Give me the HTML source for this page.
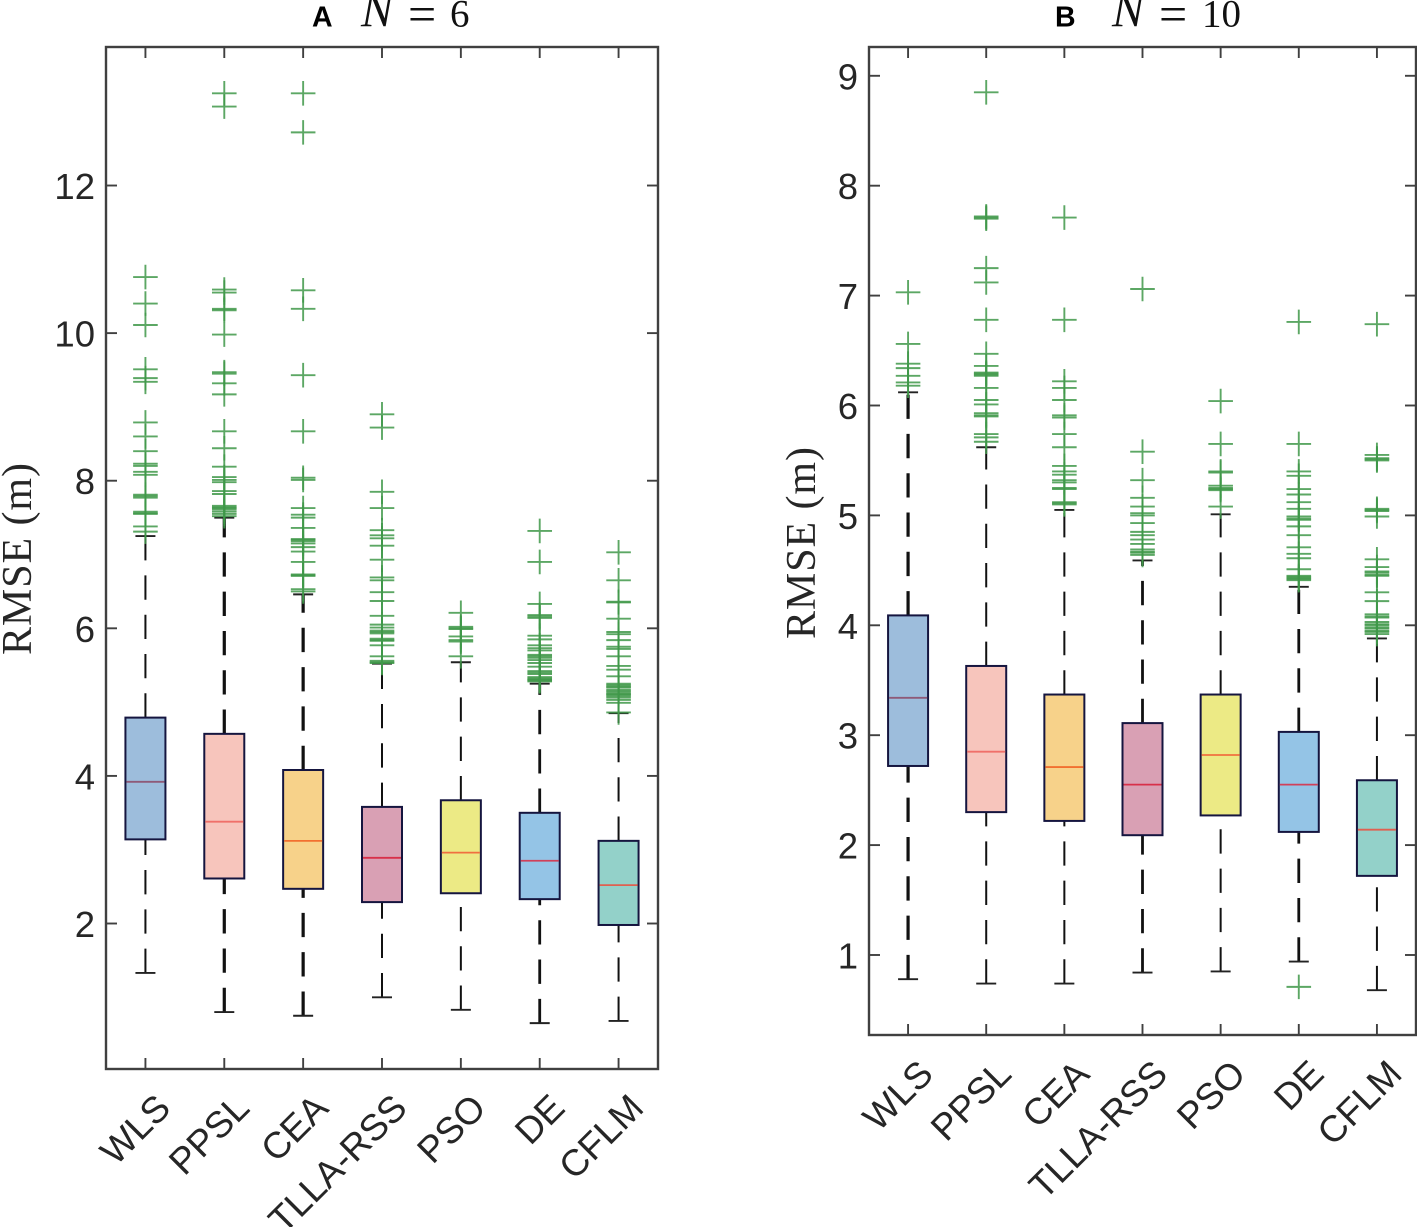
<!DOCTYPE html>
<html lang="en">
<head>
<meta charset="utf-8">
<title>RMSE box plots</title>
<style>
html,body{margin:0;padding:0;background:#fff;}
svg{display:block;}
text{fill:#262626;}
.tick-label{font-family:"Liberation Sans",sans-serif;font-size:36.5px;}
.cat-label{font-family:"Liberation Sans",sans-serif;font-size:37px;}
.y-title{font-family:"Liberation Serif",serif;font-size:42px;}
.panel-letter{font-family:"Liberation Sans",sans-serif;font-size:28.5px;font-weight:bold;fill:#000;}
.math{font-family:"Liberation Serif",serif;font-size:39px;fill:#111;}
.math-n{font-family:"Liberation Serif",serif;font-size:48px;font-style:italic;fill:#111;}
.math-eq{font-family:"Liberation Serif",serif;font-size:50px;fill:#111;}
</style>
</head>
<body>
<svg id="chart" xmlns="http://www.w3.org/2000/svg" width="1417" height="1227" viewBox="0 0 1417 1227">
  <text class="panel-letter" x="312" y="26.5">A</text>
  <text class="math-n" x="361" y="26.5">N</text>
  <text class="math-eq" x="408" y="31">=</text>
  <text class="math" x="450" y="26.5">6</text>
  <text class="panel-letter" x="1055" y="26.5">B</text>
  <text class="math-n" x="1112" y="26.5">N</text>
  <text class="math-eq" x="1159" y="31">=</text>
  <text class="math" x="1202" y="26.5">10</text>
  <text class="y-title" transform="translate(31,559) rotate(-90)" text-anchor="middle" textLength="192" lengthAdjust="spacing">RMSE (m)</text>
  <text class="y-title" transform="translate(815,543) rotate(-90)" text-anchor="middle" textLength="192" lengthAdjust="spacing">RMSE (m)</text>
</svg>
<script>
const categories = ['WLS','PPSL','CEA','TLLA-RSS','PSO','DE','CFLM'];

const yTicksA = [2,4,6,8,10,12];
const q1A = [3.14,2.61,2.47,2.29,2.41,2.33,1.98];
const medianA = [3.92,3.38,3.12,2.89,2.96,2.85,2.52];
const q3A = [4.79,4.57,4.08,3.58,3.67,3.50,3.12];
const whiskerLowA = [1.33,0.80,0.75,1.00,0.83,0.65,0.68];
const whiskerHighA = [7.25,7.50,6.46,5.52,5.54,5.25,4.85];
const outliersA = [
  [10.76,10.40,10.11,9.51,9.39,9.34,8.79,8.60,8.40,8.23,8.20,8.12,8.08,7.81,7.79,7.77,7.58,7.56,7.55,7.38,7.31],
  [13.25,13.07,10.59,10.55,10.33,10.31,9.98,9.47,9.45,9.32,9.17,8.67,8.44,8.19,8.05,8.01,7.98,7.86,7.82,7.66,7.64,7.63,7.61,7.58,7.55,7.52],
  [13.25,12.72,10.58,10.33,9.43,8.67,8.04,8.01,7.63,7.54,7.50,7.36,7.21,7.20,7.18,7.15,7.10,7.04,6.90,6.73,6.72,6.71,6.53,6.50],
  [8.90,8.72,7.85,7.63,7.33,7.26,7.22,7.12,6.93,6.69,6.65,6.49,6.37,6.17,6.05,6.01,5.97,5.95,5.93,5.86,5.84,5.83,5.77,5.62,5.56,5.54,5.53],
  [6.21,6.02,6.00,5.99,5.89,5.84,5.82,5.62],
  [7.32,6.90,6.33,6.18,6.16,6.14,5.90,5.85,5.77,5.73,5.70,5.64,5.62,5.60,5.57,5.53,5.48,5.42,5.40,5.38,5.34,5.32,5.31,5.30,5.29,5.28],
  [7.03,6.65,6.36,6.35,6.13,5.95,5.92,5.84,5.75,5.72,5.62,5.49,5.44,5.35,5.25,5.23,5.21,5.20,5.17,5.15,5.13,5.11,5.10,5.08,5.06,5.03,4.99,4.86]
];

const yTicksB = [1,2,3,4,5,6,7,8,9];
const q1B = [2.72,2.30,2.22,2.09,2.27,2.12,1.72];
const medianB = [3.34,2.85,2.71,2.55,2.82,2.55,2.14];
const q3B = [4.09,3.63,3.37,3.11,3.37,3.03,2.59];
const whiskerLowB = [0.78,0.74,0.74,0.84,0.85,0.94,0.68];
const whiskerHighB = [6.12,5.62,5.05,4.59,5.01,4.35,3.88];
const outliersB = [
  [7.03,6.56,6.38,6.34,6.27,6.21,6.18],
  [8.85,7.72,7.71,7.70,7.25,7.12,6.78,6.47,6.36,6.30,6.29,6.28,6.27,6.16,6.05,6.01,5.93,5.91,5.90,5.74,5.71,5.67],
  [7.71,6.78,6.22,6.16,6.05,5.91,5.89,5.74,5.62,5.45,5.40,5.37,5.32,5.30,5.25,5.24,5.12,5.11,5.10],
  [7.06,5.58,5.32,5.16,5.08,5.02,5.00,4.93,4.85,4.82,4.78,4.74,4.69,4.67,4.66,4.64],
  [6.04,5.65,5.40,5.39,5.27,5.25,5.24,5.23,5.08],
  [6.76,5.65,5.40,5.36,5.24,5.19,5.12,5.06,4.99,4.97,4.96,4.90,4.82,4.71,4.65,4.61,4.51,4.45,4.44,4.43,4.42,4.41,0.71],
  [6.74,5.55,5.52,5.51,5.50,5.06,5.05,5.04,4.99,4.60,4.53,4.49,4.48,4.46,4.45,4.30,4.22,4.10,4.08,4.07,4.03,4.01,4.00,3.98,3.97,3.95,3.94,3.92]
];

const fillColors = ['#9dbddc','#f7c5bc','#f7d28a','#d9a0b4','#ecea85','#94c4e6','#93d1c9'];
const medianColors = ['#8e5a78','#f0706a','#f27030','#d8304a','#f07040','#d0405a','#e06050'];
const whiskerWidthsA = [2,3.2,3.2,2,2,2.8,2];
const whiskerWidthsB = [3.2,2,2,2.8,2,2.8,2];

const svg = document.getElementById('chart');
const NS = 'http://www.w3.org/2000/svg';

function make(tag, attrs, parent) {
  const el = document.createElementNS(NS, tag);
  for (const k in attrs) el.setAttribute(k, attrs[k]);
  parent.appendChild(el);
  return el;
}

function linear(d0, d1, r0, r1) {
  return v => r0 + (v - d0) * (r1 - r0) / (d1 - d0);
}

function drawPanel(p) {
  const group = make('g', {}, svg);
  
  
  const x = linear(0.5, 7.5, p.left, p.right);
  const y = linear(p.yMin, p.yMax, p.bottom, p.top);

  categories.forEach((cat, i) => {
    const cx = x(i + 1);
    const box = make('g', {}, group);
    
    

    const lower = make('line', {x1:cx, x2:cx, y1:y(p.low[i]), y2:y(p.q1[i]), stroke:'#111', 'stroke-width':p.widths[i], 'stroke-dasharray':'24.3 15'}, box);
    
    
    const upper = make('line', {x1:cx, x2:cx, y1:y(p.q3[i]), y2:y(p.high[i]), stroke:'#111', 'stroke-width':p.widths[i], 'stroke-dasharray':'24.3 15'}, box);
    
    
    const lowCap = make('line', {x1:cx-10, x2:cx+10, y1:y(p.low[i]), y2:y(p.low[i]), stroke:'#222', 'stroke-width':1.9}, box);
    
    
    const highCap = make('line', {x1:cx-10, x2:cx+10, y1:y(p.high[i]), y2:y(p.high[i]), stroke:'#222', 'stroke-width':1.9}, box);
    
    

    const rect = make('rect', {x:cx-20, width:40, y:y(p.q3[i]), height:y(p.q1[i])-y(p.q3[i]), fill:fillColors[i], stroke:'#15153f', 'stroke-width':2}, box);
    
    
    const med = make('line', {x1:cx-19, x2:cx+19, y1:y(p.median[i]), y2:y(p.median[i]), stroke:medianColors[i], 'stroke-width':1.8}, box);
    
    

    p.outliers[i].forEach(v => {
      const py = y(v);
      const mark = make('path', {d:'M'+(cx-12.3)+' '+py+'H'+(cx+12.3)+'M'+cx+' '+(py-12.3)+'V'+(py+12.3), fill:'none', stroke:'#409849', 'stroke-width':1.9, 'stroke-opacity':0.85}, box);
      
      
    });
  });

  const frame = make('rect', {x:p.left, y:p.top, width:p.right-p.left, height:p.bottom-p.top, fill:'none', stroke:'#404040', 'stroke-width':2.4}, group);
  
  

  categories.forEach((cat, i) => {
    const cx = x(i + 1);
    const t1 = make('line', {x1:cx, x2:cx, y1:p.bottom, y2:p.bottom-11, stroke:'#404040', 'stroke-width':1.9}, group);
    
    
    const t2 = make('line', {x1:cx, x2:cx, y1:p.top, y2:p.top+11, stroke:'#404040', 'stroke-width':1.9}, group);
    
    
    const lab = make('text', {class:'cat-label', 'text-anchor':'end', transform:'translate('+(cx+27)+','+(p.bottom+41)+') rotate(-45)'}, group);
    lab.textContent = cat;
    
    
  });

  p.ticks.forEach(v => {
    const py = y(v);
    const t1 = make('line', {x1:p.left, x2:p.left+11, y1:py, y2:py, stroke:'#404040', 'stroke-width':1.9}, group);
    
    
    const t2 = make('line', {x1:p.right, x2:p.right-11, y1:py, y2:py, stroke:'#404040', 'stroke-width':1.9}, group);
    
    
    const lab = make('text', {class:'tick-label', 'text-anchor':'end', x:p.left-11, y:py+13.5}, group);
    lab.textContent = v;
    
    
  });
}

drawPanel({id:'panel-a', left:106, right:658, top:47, bottom:1069, yMin:0.0285, yMax:13.877,
  ticks:yTicksA, q1:q1A, median:medianA, q3:q3A, low:whiskerLowA, high:whiskerHighA, outliers:outliersA, widths:whiskerWidthsA});
drawPanel({id:'panel-b', left:869, right:1416, top:47, bottom:1035, yMin:0.272, yMax:9.262,
  ticks:yTicksB, q1:q1B, median:medianB, q3:q3B, low:whiskerLowB, high:whiskerHighB, outliers:outliersB, widths:whiskerWidthsB});
</script>
</body>
</html>
